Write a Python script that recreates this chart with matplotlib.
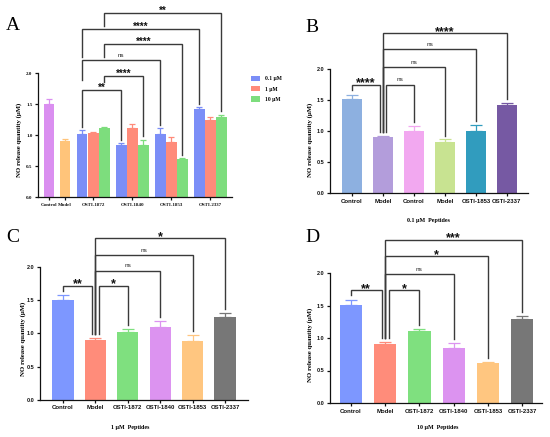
import matplotlib
matplotlib.use('Agg')
import matplotlib.pyplot as plt
from matplotlib.patches import Patch

# ---------------- data ----------------
a_single_labels = ['Control', 'Model']
a_single_values = [1.51, 0.91]
a_single_errors = [0.07, 0.03]
a_groups = ['OSTI-1872', 'OSTI-1840', 'OSTI-1853', 'OSTI-2337']
a_doses = ['0.1 µM', '1 µM', '10 µM']
a_values_01 = [1.02, 0.84, 1.02, 1.43]
a_values_1 = [1.03, 1.11, 0.89, 1.25]
a_values_10 = [1.11, 0.85, 0.61, 1.29]
a_err_01 = [0.06, 0.03, 0.09, 0.02]
a_err_1 = [0.03, 0.08, 0.09, 0.05]
a_err_10 = [0.02, 0.08, 0.02, 0.04]
# (group, dose) vs (group, dose), label
a_sig = [((0, 0), (1, 0), '**'), ((0, 2), (1, 2), '****'), ((0, 0), (2, 0), 'ns'),
         ((0, 2), (2, 2), '****'), ((0, 0), (3, 0), '****'), ((0, 2), (3, 2), '**')]

b_labels = ['Control', 'Model', 'Control', 'Model', 'OSTI-1853', 'OSTI-2337']
b_values = [1.51, 0.90, 1.01, 0.82, 1.00, 1.42]
b_errors = [0.07, 0.03, 0.07, 0.05, 0.10, 0.03]
b_sig = [(0, 1, '****'), (1, 2, 'ns'), (1, 3, 'ns'), (1, 4, 'ns'), (1, 5, '****')]

c_labels = ['Control', 'Model', 'OSTI-1872', 'OSTI-1840', 'OSTI-1853', 'OSTI-2337']
c_values = [1.51, 0.90, 1.02, 1.10, 0.88, 1.24]
c_errors = [0.07, 0.03, 0.04, 0.09, 0.10, 0.07]
c_sig = [(0, 1, '**'), (1, 2, '*'), (1, 3, 'ns'), (1, 4, 'ns'), (1, 5, '*')]

d_labels = ['Control', 'Model', 'OSTI-1872', 'OSTI-1840', 'OSTI-1853', 'OSTI-2337']
d_values = [1.51, 0.91, 1.11, 0.85, 0.61, 1.29]
d_errors = [0.07, 0.03, 0.03, 0.08, 0.02, 0.05]
d_sig = [(0, 1, '**'), (1, 2, '*'), (1, 3, 'ns'), (1, 4, '*'), (1, 5, '***')]

y_ticks = [0.0, 0.5, 1.0, 1.5, 2.0]

# ---------------- style ----------------
W, H = 550, 437
fig = plt.figure(figsize=(5.5, 4.37), dpi=100)
SERIF = ['Liberation Serif', 'DejaVu Serif']
SANS = ['Liberation Sans', 'DejaVu Sans']
LINE = '#3a3a3a'

colors_a_single = ['#DA8FF0', '#FFC47A']
colors_a_dose = ['#7B8EF7', '#FF8B7A', '#7DDD7D']
colors_b = ['#8DB0E0', '#B39DDB', '#F2A8F0', '#C8E391', '#319CBE', '#7659A3']
colors_cd = ['#7D97FF', '#FF8C7A', '#7FE07F', '#DC93F0', '#FFC680', '#777777']


def add_axes_px(left, right, top, bottom):
    return fig.add_axes([left / W, 1 - bottom / H, (right - left) / W, (bottom - top) / H])


def style_axes(ax, tick_family, tick_size):
    for s in ['top', 'right']:
        ax.spines[s].set_visible(False)
    for s in ['left', 'bottom']:
        ax.spines[s].set_linewidth(0.9)
        ax.spines[s].set_color('#111111')
    ax.set_ylim(0, 2.0)
    ax.set_yticks(y_ticks)
    ax.set_yticklabels([f'{t:.1f}' for t in y_ticks])
    ax.tick_params(direction='out', length=2.5, width=0.9, pad=1.5, colors='#111111')
    for lab in ax.get_xticklabels() + ax.get_yticklabels():
        lab.set_family(tick_family)
        lab.set_fontweight('bold')
        lab.set_fontsize(tick_size)


def bars(ax, xs, vals, errs, cols, width, capsize):
    ax.bar(xs, vals, width=width, color=cols, edgecolor='none', zorder=2)
    for x, v, e, c in zip(xs, vals, errs, cols):
        ax.errorbar([x], [v], yerr=[[0], [e]], fmt='none', ecolor=c, elinewidth=0.9,
                    capsize=capsize, capthick=0.9, zorder=1)


def bracket(ax, x1, x2, y, b1, b2, text, fs_star, fs_ns, family, star_off):
    ax.plot([x1, x1, x2, x2], [b1, y, y, b2], color=LINE, lw=1.0, clip_on=False,
            solid_joinstyle='miter', zorder=3)
    if text == 'ns':
        ax.annotate(text, xy=((x1 + x2) / 2, y), xytext=(0, 1.8), textcoords='offset points',
                    ha='center', va='bottom', fontsize=fs_ns, family=SANS, color='#222222',
                    annotation_clip=False)
    else:
        ax.annotate(text, xy=((x1 + x2) / 2, y), xytext=(0, star_off), textcoords='offset points',
                    ha='center', va='baseline', fontsize=fs_star, family=family,
                    fontweight='bold', color='#111111', annotation_clip=False)


def ylabel(x, y):
    fig.text(x / W, 1 - y / H, 'NO release quantity (µM)', rotation=90, ha='center',
             va='center', family=SERIF, fontweight='bold', fontsize=4.9)


GAP = 0.06

# ---------------- Panel A ----------------
axA = add_axes_px(38, 232, 73.3, 197.3)
single_x = [0.0, 1.45]
group_x = [4.0, 7.55, 11.09, 14.64]
bars(axA, single_x, a_single_values, a_single_errors, colors_a_single, 0.98, 2.2)
dose_vals = [a_values_01, a_values_1, a_values_10]
dose_errs = [a_err_01, a_err_1, a_err_10]
for d in range(3):
    xs = [g + (d - 1) for g in group_x]
    bars(axA, xs, dose_vals[d], dose_errs[d], [colors_a_dose[d]] * 4, 0.98, 2.2)
axA.set_xlim(-1.0, 16.6)
axA.set_xticks(single_x + group_x)
axA.set_xticklabels(a_single_labels + a_groups)
style_axes(axA, SERIF, 3.6)

a_levels = [1.73, 1.96, 2.21, 2.48, 2.72, 2.97]
a_left_bottoms = [None, 1.86, 1.89, 2.27, 2.27, 2.77]
for k, ((g1, d1), (g2, d2), lab) in enumerate(a_sig):
    x1 = group_x[g1] + d1 - 1
    x2 = group_x[g2] + d2 - 1
    top1 = dose_vals[d1][g1] + dose_errs[d1][g1] + GAP
    top2 = dose_vals[d2][g2] + dose_errs[d2][g2] + GAP
    b1 = a_left_bottoms[k] if a_left_bottoms[k] is not None else top1
    bracket(axA, x1, x2, a_levels[k], b1, top2, lab, 7.0, 4.5, SANS, -0.6)

handles = [Patch(facecolor=c, edgecolor='none') for c in colors_a_dose]
fig.legend(handles, a_doses, loc='upper left', bbox_to_anchor=(247 / W, 1 - 72 / H),
           frameon=False, prop={'family': SERIF, 'weight': 'bold', 'size': 4.0},
           handlelength=1.6, handleheight=1.1, labelspacing=0.85, handletextpad=0.9,
           borderpad=0.2)
ylabel(19, 140)
fig.text(13 / W, 1 - 25 / H, 'A', family=SERIF, fontsize=14, ha='center', va='center')


# ---------------- Panels B, C, D ----------------
def simple_panel(rect, xlim, labels, vals, errs, cols, sig, levels, model_off):
    ax = add_axes_px(*rect)
    xs = list(range(len(vals)))
    bars(ax, xs, vals, errs, cols, 0.65, 4.0)
    ax.set_xlim(*xlim)
    ax.set_xticks(xs)
    ax.set_xticklabels(labels)
    style_axes(ax, SANS, 4.3)
    for lab in ax.get_yticklabels():
        lab.set_fontsize(4.0)
    for (i, j, lab), lev in zip(sig, levels):
        x1, x2 = float(i), float(j)
        if i == 0 and j == 1:
            x2 -= model_off
        elif i == 1 and j == 2:
            x1 += model_off
        t1 = vals[i] + errs[i] + GAP
        t2 = vals[j] + errs[j] + GAP
        if i == 0:
            t1 = lev - 0.08
        bracket(ax, x1, x2, lev, t1, t2, lab, 9.0, 4.6, SANS, -1.3)
    return ax


axB = simple_panel((330, 528, 69, 193.3), (-0.71, 5.68), b_labels, b_values, b_errors,
                   colors_b, b_sig, [1.75, 1.75, 2.03, 2.32, 2.58], 0.1)
ylabel(310, 140)
fig.text(312 / W, 1 - 27 / H, 'B', family=SERIF, fontsize=14, ha='center', va='center')
fig.text(428 / W, 1 - 220 / H, '0.1 µM  Peptides', family=SERIF, fontweight='bold',
         fontsize=4.3, ha='center', va='center')

axC = simple_panel((40, 248, 267, 399.7), (-0.71, 5.71), c_labels, c_values, c_errors,
                   colors_cd, c_sig, [1.72, 1.72, 1.94, 2.18, 2.43], 0.1)
ylabel(23, 339)
fig.text(13 / W, 1 - 238 / H, 'C', family=SERIF, fontsize=14, ha='center', va='center')
fig.text(130 / W, 1 - 428 / H, '1 µM  Peptides', family=SERIF, fontweight='bold',
         fontsize=4.3, ha='center', va='center')

axD = simple_panel((330, 542, 273, 403), (-0.61, 5.58), d_labels, d_values, d_errors,
                   colors_cd, d_sig, [1.74, 1.74, 1.98, 2.26, 2.51], 0.1)
ylabel(310, 345)
fig.text(312 / W, 1 - 238 / H, 'D', family=SERIF, fontsize=14, ha='center', va='center')
fig.text(438 / W, 1 - 427 / H, '10 µM  Peptides', family=SERIF, fontweight='bold',
         fontsize=4.3, ha='center', va='center')

fig.savefig('out.png', dpi=100, facecolor='white')
